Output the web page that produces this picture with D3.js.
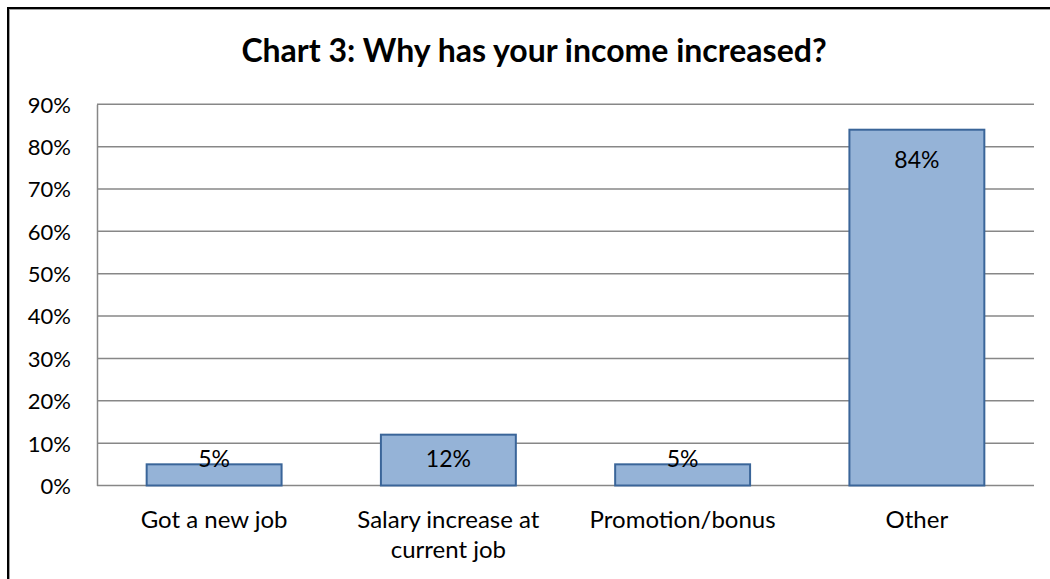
<!DOCTYPE html>
<html>
<head>
<meta charset="utf-8">
<script src="https://cdn.jsdelivr.net/npm/d3@7"></script>
<style>
  html, body { margin: 0; padding: 0; background: #fff; }
  svg { display: block; }
  text { font-family: Lato, "Open Sans", sans-serif; fill: #000; }
</style>
</head>
<body>
<svg id="chart" width="1050" height="579"></svg>
<script>
// Survey responses: reasons for an income increase
const categories = [["Got a new job"], ["Salary increase at", "current job"], ["Promotion/bonus"], ["Other"]];
const values = [5, 12, 5, 84];
const valueLabels = ["5%", "12%", "5%", "84%"];
const yTicks = [0, 10, 20, 30, 40, 50, 60, 70, 80, 90];
const title = "Chart 3: Why has your income increased?";

const svg = d3.select("#chart");
const W = 1050, H = 579;
const plot = { left: 97, right: 1034, top: 104.3, bottom: 485.5 };

// Chart frame (runs off the right and bottom edges)
svg.append("rect")
  .attr("x", 9.5).attr("y", 9.5)
  .attr("width", W + 20).attr("height", H + 20)
  .attr("fill", "none").attr("stroke", "#a0a0a0").attr("stroke-width", 1);
svg.append("rect")
  .attr("x", 8).attr("y", 8)
  .attr("width", W + 20).attr("height", H + 20)
  .attr("fill", "none").attr("stroke", "#000").attr("stroke-width", 2);

// Title
svg.append("text")
  .attr("x", 534).attr("y", 62)
  .attr("text-anchor", "middle")
  .style("font-weight", "700")
  .style("font-size", "32px")
  .text(title);

const x = d3.scaleBand()
  .domain(d3.range(categories.length))
  .range([plot.left, plot.right])
  .paddingInner(0.424)
  .paddingOuter(0.212);

const y = d3.scaleLinear().domain([0, 90]).range([plot.bottom, plot.top]);

// Horizontal gridlines
svg.append("g").selectAll("line")
  .data(yTicks)
  .join("line")
  .attr("x1", plot.left).attr("x2", plot.right)
  .attr("y1", d => y(d)).attr("y2", d => y(d))
  .attr("stroke", "#878787").attr("stroke-width", 1.5);

// Value axis
const yAxis = d3.axisLeft(y).tickValues(yTicks).tickFormat(d => d + "%").tickSize(0).tickPadding(26);
const gy = svg.append("g").attr("transform", `translate(${plot.left},0)`).call(yAxis);
gy.select(".domain").attr("stroke", "#878787").attr("stroke-width", 1.5);
gy.selectAll("text")
  .style("font-size", "22px")
  .attr("dy", "0.36em");

// Bars
svg.append("g").selectAll("rect")
  .data(values)
  .join("rect")
  .attr("x", (d, i) => x(i))
  .attr("y", d => y(d))
  .attr("width", x.bandwidth())
  .attr("height", d => y(0) - y(d))
  .attr("fill", "#95b3d7")
  .attr("stroke", "#3a6599")
  .attr("stroke-width", 2);

// Value labels, inside the bar end, kept above the base for short bars
svg.append("g").selectAll("text")
  .data(values)
  .join("text")
  .attr("x", (d, i) => x(i) + x.bandwidth() / 2)
  .attr("y", d => Math.min(y(d) + 30.5, y(0) - 27))
  .attr("dy", "0.36em")
  .attr("text-anchor", "middle")
  .style("font-size", "23px")
  .text((d, i) => valueLabels[i]);

// Category labels
const gx = svg.append("g");
categories.forEach((lines, i) => {
  const t = gx.append("text")
    .attr("x", x(i) + x.bandwidth() / 2)
    .attr("y", 527.5)
    .attr("text-anchor", "middle")
    .style("font-size", "24px");
  lines.forEach((ln, j) => {
    t.append("tspan")
      .attr("x", x(i) + x.bandwidth() / 2)
      .attr("dy", j === 0 ? 0 : 30)
      .text(ln);
  });
});
</script>
</body>
</html>
